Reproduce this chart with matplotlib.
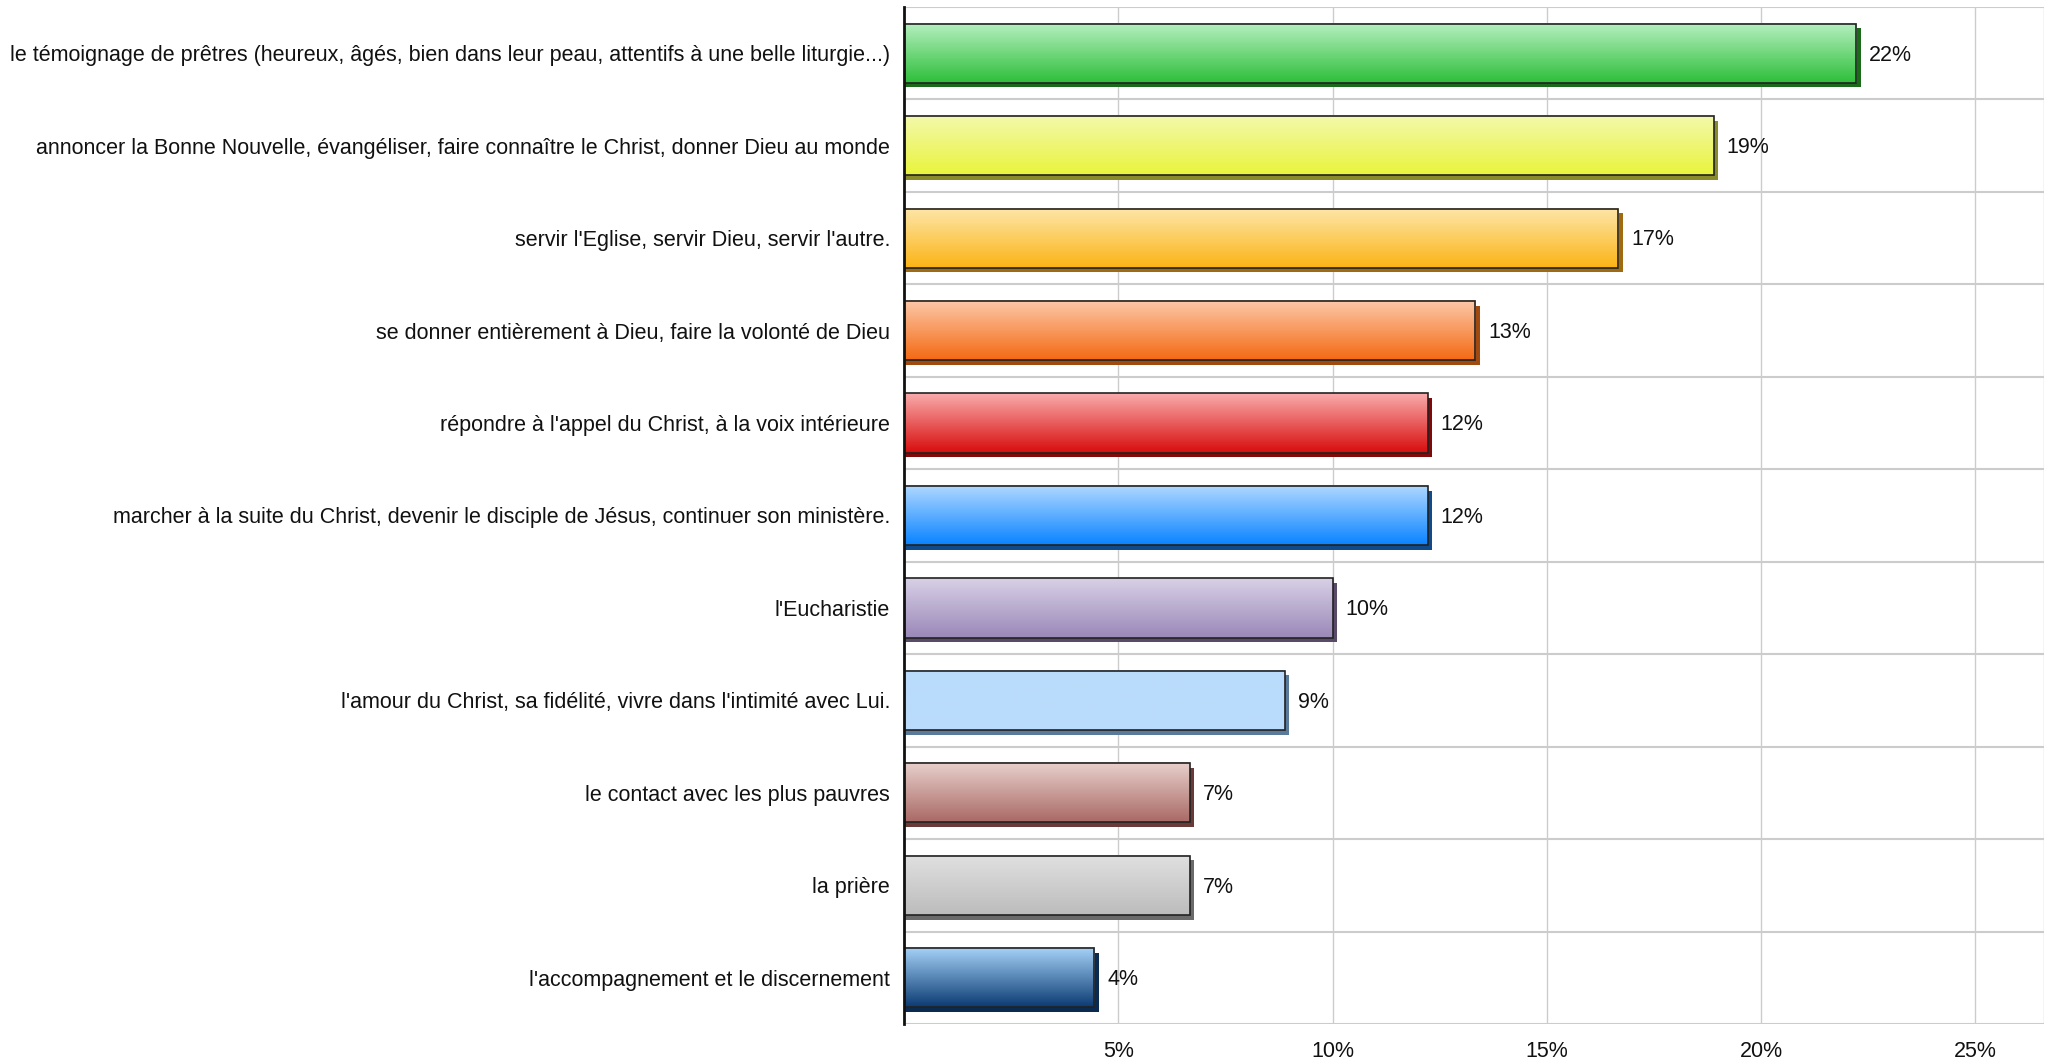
import numpy as np
import matplotlib
matplotlib.use('Agg')
import matplotlib.pyplot as plt
from matplotlib.colors import to_rgb

plt.rcParams['font.family'] = ['Liberation Sans', 'DejaVu Sans']

# data (percent of answers)
categories = [
    "le témoignage de prêtres (heureux, âgés, bien dans leur peau, attentifs à une belle liturgie...)",
    "annoncer la Bonne Nouvelle, évangéliser, faire connaître le Christ, donner Dieu au monde",
    "servir l'Eglise, servir Dieu, servir l'autre.",
    "se donner entièrement à Dieu, faire la volonté de Dieu",
    "répondre à l'appel du Christ, à la voix intérieure",
    "marcher à la suite du Christ, devenir le disciple de Jésus, continuer son ministère.",
    "l'Eucharistie",
    "l'amour du Christ, sa fidélité, vivre dans l'intimité avec Lui.",
    "le contact avec les plus pauvres",
    "la prière",
    "l'accompagnement et le discernement",
]
values = [22.22, 18.89, 16.67, 13.33, 12.22, 12.22, 10.0, 8.89, 6.67, 6.67, 4.44]
value_labels = ["22%", "19%", "17%", "13%", "12%", "12%", "10%", "9%", "7%", "7%", "4%"]

# gradient (top, bottom) and shadow colour for each bar
top_colors = ["#b5efbf", "#f3f9ac", "#fee6a8", "#fcc8a8", "#f9abab", "#b0d8ff",
              "#d8d0e6", "#badcfc", "#e8d0cc", "#e0e0e0", "#a6d2f8"]
bottom_colors = ["#2ebf3a", "#e9f43c", "#fbb415", "#f46a14", "#d80d0d", "#0a84ff",
                 "#9a88b8", "#badcfc", "#aa6a66", "#bcbcbc", "#0c3c74"]
shadow_colors = ["#1a6a1a", "#8a8a2a", "#a06a10", "#a04a10", "#800808", "#104a8a",
                 "#5a4a6a", "#5a7a9a", "#6a3a38", "#6a6a6a", "#0a2a50"]

xticks = [5, 10, 15, 20, 25]
xtick_labels = ["5%", "10%", "15%", "20%", "25%"]

fig = plt.figure(figsize=(20.51, 10.62), dpi=100)
ax = fig.add_axes([0.4408, 0.0358, 0.5558, 0.9576])

n = len(categories)
ypos = np.arange(n)
bar_h = 0.64
xmax = 26.6
fs = 15.5

for i, v in enumerate(values):
    y = ypos[i]
    # 3D-ish shadow below and to the right
    ax.barh(y + 0.05, v + 0.1, height=bar_h, left=0, color=shadow_colors[i], zorder=2)
    # vertical gradient fill
    c1 = np.array(to_rgb(top_colors[i]))
    c2 = np.array(to_rgb(bottom_colors[i]))
    t = np.linspace(0, 1, 64)[:, None]
    grad = (c1 * (1 - t) + c2 * t)[:, None, :]
    ax.imshow(grad, extent=(0, v, y + bar_h / 2, y - bar_h / 2), aspect='auto',
              interpolation='bilinear', zorder=3)
    ax.barh(y, v, height=bar_h, left=0, facecolor='none', edgecolor='#222222',
            linewidth=1.2, zorder=4)
    ax.text(v + 0.3, y + 0.02, value_labels[i], va='center', ha='left', fontsize=fs,
            color='#111111', zorder=5)

ax.set_xlim(0, xmax)
ax.set_ylim(n - 0.5, -0.5)

# grid: vertical at ticks, horizontal between categories
for xt in xticks + [xmax]:
    ax.axvline(xt, color='#cccccc', linewidth=1, zorder=1)
for b in np.arange(n + 1) - 0.5:
    ax.axhline(b, color='#cccccc', linewidth=1.5, zorder=1)

ax.set_xticks(xticks)
ax.set_xticklabels(xtick_labels, fontsize=fs, color='#111111')
ax.set_yticks(ypos)
ax.set_yticklabels(categories, fontsize=fs, color='#111111')
ax.tick_params(axis='both', length=0)
ax.tick_params(axis='y', pad=10)
ax.tick_params(axis='x', pad=12)

for s in ['top', 'right', 'bottom']:
    ax.spines[s].set_visible(False)
ax.spines['left'].set_color('#111111')
ax.spines['left'].set_linewidth(2)
ax.spines['left'].set_zorder(6)

fig.savefig('out.png', dpi=100)
